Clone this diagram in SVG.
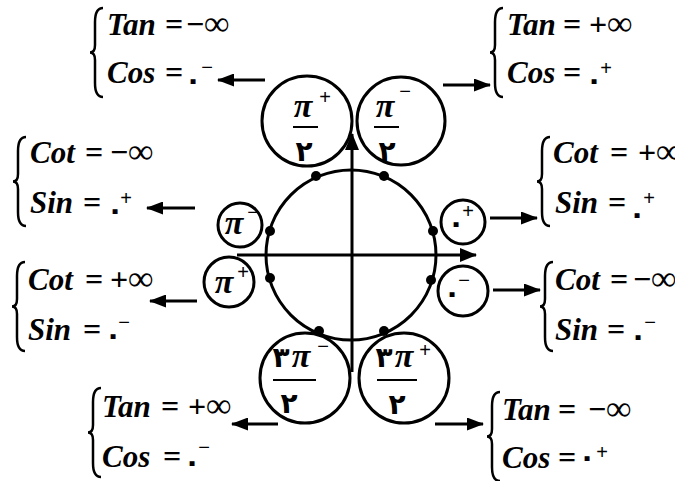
<svg xmlns="http://www.w3.org/2000/svg" xmlns:xlink="http://www.w3.org/1999/xlink" width="675" height="481" viewBox="0 0 675 481">
<style>
.ln{stroke:#000;stroke-width:3;fill:none}
.ar{stroke:#000;stroke-width:3;fill:none;marker-end:url(#ah)}
.br{stroke:#000;stroke-width:2.5;fill:none}
.bar{stroke:#000;stroke-width:2}
.v{font-family:"Liberation Serif",serif;font-weight:bold;font-style:italic;font-size:31px}
.o{font-family:"Liberation Serif",serif;font-weight:bold;font-size:32px}
.inf{font-size:35px}
.pi{font-family:"Liberation Serif",serif;font-weight:bold;font-style:italic;font-size:34px;text-anchor:middle}
.d{font-family:"DejaVu Sans",sans-serif;font-weight:bold;font-size:28px;text-anchor:middle}
.z{font-family:"DejaVu Sans",sans-serif;font-weight:bold;font-size:28px;text-anchor:middle}
.s{font-family:"Liberation Sans",sans-serif;font-size:20px;text-anchor:middle}
</style>
<defs>
<marker id="ah" viewBox="0 0 17 13" refX="16" refY="6.5" markerWidth="17" markerHeight="13" markerUnits="userSpaceOnUse" orient="auto"><path d="M0,0 L17,6.5 L0,13 Z" fill="#000"/></marker>
<marker id="axh" viewBox="0 0 17 14" refX="16" refY="7" markerWidth="17" markerHeight="14" markerUnits="userSpaceOnUse" orient="auto"><path d="M0,0 L17,7 L0,14 Z" fill="#000"/></marker>
<path id="brace" d="M13,0 Q5,0 5,14 L5,37 Q5,44.5 0,44.5 Q5,44.5 5,52 L5,75 Q5,89 13,89"/>
</defs>

<g id="axes">
<circle class="ln" cx="351" cy="255" r="85"/>
<line class="ln" x1="237" y1="255" x2="476" y2="255" marker-end="url(#axh)"/>
<line class="ln" x1="352" y1="372" x2="352" y2="134" marker-end="url(#axh)"/>
<g fill="#000">
<circle cx="316" cy="176" r="5"/><circle cx="384" cy="176" r="5"/>
<circle cx="270" cy="231" r="5"/><circle cx="270" cy="278" r="5"/>
<circle cx="433" cy="231" r="5"/><circle cx="431" cy="280" r="5"/>
<circle cx="319" cy="331" r="5"/><circle cx="384" cy="331" r="5"/>
</g>
</g>

<g id="n-pi2p">
<circle class="ln" cx="307" cy="121" r="45"/>
<text class="pi" x="303" y="117">π</text>
<line class="bar" x1="293" y1="127" x2="318" y2="127"/>
<text class="d" x="304" y="161">۲</text>
<text class="s" x="325" y="104">+</text>
</g>
<g id="n-pi2m">
<circle class="ln" cx="401" cy="121" r="44"/>
<text class="pi" x="385" y="117">π</text>
<line class="bar" x1="374" y1="127" x2="399" y2="127"/>
<text class="d" x="387" y="161">۲</text>
<text class="s" x="405" y="98">−</text>
</g>
<g id="n-pim">
<circle class="ln" cx="240" cy="225" r="22"/>
<text class="pi" x="234" y="234">π</text>
<text class="s" x="253" y="219">−</text>
</g>
<g id="n-pip">
<circle class="ln" cx="229" cy="282" r="25"/>
<text class="pi" x="224" y="293">π</text>
<text class="s" x="243" y="279">+</text>
</g>
<g id="n-0p">
<circle class="ln" cx="463" cy="222" r="22"/>
<text class="z" x="456" y="232">۰</text>
<text class="s" x="468" y="218">+</text>
</g>
<g id="n-0m">
<circle class="ln" cx="463" cy="291" r="25"/>
<text class="z" x="452" y="302">۰</text>
<text class="s" x="464" y="287">−</text>
</g>
<g id="n-3pi2m">
<circle class="ln" cx="305" cy="378" r="45"/>
<text class="d" x="281" y="367">۳</text>
<text class="pi" x="301" y="367">π</text>
<line class="bar" x1="273" y1="380" x2="316" y2="380"/>
<text class="d" x="289" y="413">۲</text>
<text class="s" x="323" y="353">−</text>
</g>
<g id="n-3pi2p">
<circle class="ln" cx="404" cy="378" r="45"/>
<text class="d" x="384" y="367">۳</text>
<text class="pi" x="404" y="367">π</text>
<line class="bar" x1="377" y1="380" x2="417" y2="380"/>
<text class="d" x="397" y="414">۲</text>
<text class="s" x="425" y="357">+</text>
</g>

<g id="eq-tl">
<use xlink:href="#brace" class="br" x="90" y="8"/>
<text class="v" x="107" y="35">Tan</text><text class="o" x="165" y="35">=</text><text class="o" x="186" y="35">−<tspan class="inf">∞</tspan></text>
<text class="v" x="107" y="83">Cos</text><text class="o" x="165" y="83">=</text>
<text class="z" x="193" y="89">۰</text><text class="s" x="207" y="74">−</text>
</g>
<g id="eq-tr">
<use xlink:href="#brace" class="br" x="490" y="8"/>
<text class="v" x="507" y="35">Tan</text><text class="o" x="563" y="35">=</text><text class="o" x="589" y="35">+<tspan class="inf">∞</tspan></text>
<text class="v" x="507" y="83">Cos</text><text class="o" x="563" y="83">=</text>
<text class="z" x="594" y="89">۰</text><text class="s" x="606" y="75">+</text>
</g>
<g id="eq-ml">
<use xlink:href="#brace" class="br" x="13" y="137"/>
<text class="v" x="30" y="163">Cot</text><text class="o" x="85" y="163">=</text><text class="o" x="110" y="163">−<tspan class="inf">∞</tspan></text>
<text class="v" x="30" y="213">Sin</text><text class="o" x="83" y="213">=</text>
<text class="z" x="115" y="219">۰</text><text class="s" x="126" y="205">+</text>
</g>
<g id="eq-mr">
<use xlink:href="#brace" class="br" x="537" y="137"/>
<text class="v" x="553" y="163">Cot</text><text class="o" x="610" y="163">=</text><text class="o" x="638" y="163">+<tspan class="inf">∞</tspan></text>
<text class="v" x="555" y="213">Sin</text><text class="o" x="608" y="213">=</text>
<text class="z" x="637" y="223">۰</text><text class="s" x="649" y="205">+</text>
</g>
<g id="eq-ll">
<use xlink:href="#brace" class="br" x="12" y="262"/>
<text class="v" x="28" y="290">Cot</text><text class="o" x="85" y="290">=</text><text class="o" x="110" y="290">+<tspan class="inf">∞</tspan></text>
<text class="v" x="28" y="340">Sin</text><text class="o" x="83" y="340">=</text>
<text class="z" x="113" y="344">۰</text><text class="s" x="124" y="329">−</text>
</g>
<g id="eq-lr">
<use xlink:href="#brace" class="br" x="540" y="262"/>
<text class="v" x="555" y="290">Cot</text><text class="o" x="610" y="290">=</text><text class="o" x="633" y="290">−<tspan class="inf">∞</tspan></text>
<text class="v" x="555" y="340">Sin</text><text class="o" x="607" y="340">=</text>
<text class="z" x="638" y="345">۰</text><text class="s" x="650" y="329">−</text>
</g>
<g id="eq-bl">
<use xlink:href="#brace" class="br" x="88" y="388"/>
<text class="v" x="102" y="417">Tan</text><text class="o" x="161" y="417">=</text><text class="o" x="188" y="417">+<tspan class="inf">∞</tspan></text>
<text class="v" x="102" y="467">Cos</text><text class="o" x="163" y="467">=</text>
<text class="z" x="192" y="471">۰</text><text class="s" x="204" y="454">−</text>
</g>
<g id="eq-br">
<use xlink:href="#brace" class="br" x="487" y="392"/>
<text class="v" x="502" y="420">Tan</text><text class="o" x="558" y="420">=</text><text class="o" x="588" y="420">−<tspan class="inf">∞</tspan></text>
<text class="v" x="502" y="468">Cos</text><text class="o" x="558" y="468">=</text>
<text class="z" x="587" y="466">۰</text><text class="s" x="602" y="459">+</text>
</g>

<g id="connectors">
<line class="ar" x1="265" y1="80" x2="218" y2="80"/>
<line class="ar" x1="443" y1="85" x2="490" y2="85"/>
<line class="ar" x1="195" y1="208" x2="147" y2="208"/>
<line class="ar" x1="490" y1="218" x2="537" y2="218"/>
<line class="ar" x1="197" y1="301" x2="150" y2="301"/>
<line class="ar" x1="493" y1="290" x2="540" y2="290"/>
<line class="ar" x1="278" y1="424" x2="232" y2="424"/>
<line class="ar" x1="435" y1="424" x2="483" y2="424"/>
</g>
</svg>
